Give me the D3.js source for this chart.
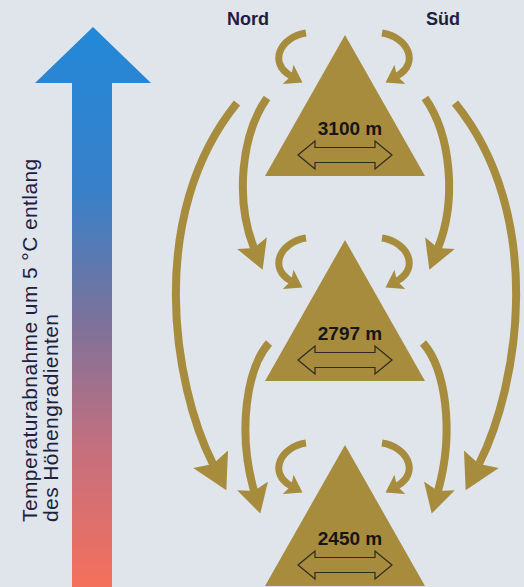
<!DOCTYPE html>
<html>
<head>
<meta charset="utf-8">
<script src="https://cdn.jsdelivr.net/npm/d3@7"></script>
<style>
  body { margin: 0; background: #dfe5ea; }
  svg { display: block; }
</style>
</head>
<body>
<div id="chart"></div>
<script>
// data
const peakLabels = ["3100 m", "2797 m", "2450 m"];
const sideLabels = ["Nord", "Süd"];
const axisLines = ["Temperaturabnahme um 5 °C entlang", "des Höhengradienten"];
// air flows between peaks: from index, to index, lane
const flowFrom = [0, 0, 1];
const flowTo = [1, 2, 2];
const flowLane = ["inner", "outer", "inner"];

const width = 524, height = 587;
const gold = "#a88c3d";
const ink = "#1d2140";

const svg = d3.select("#chart").append("svg")
    .attr("width", width)
    .attr("height", height);

svg.append("rect").attr("width", width).attr("height", height).attr("fill", "#dfe5ea");

const defs = svg.append("defs");

// temperature gradient for the big arrow
const grad = defs.append("linearGradient")
    .attr("id", "temp")
    .attr("gradientUnits", "userSpaceOnUse")
    .attr("x1", 0).attr("y1", 27).attr("x2", 0).attr("y2", height);
[[0, "#2288d8"], [0.3, "#3a80c8"], [0.52, "#7a729c"], [0.75, "#c46f7e"], [1, "#f4705c"]]
    .forEach(function(s) {
        grad.append("stop").attr("offset", s[0]).attr("stop-color", s[1]);
    });

// arrow heads (barbed)
function addHead(id, len, w, notch) {
    defs.append("marker")
        .attr("id", id)
        .attr("markerUnits", "userSpaceOnUse")
        .attr("orient", "auto")
        .attr("markerWidth", len + 2)
        .attr("markerHeight", w + 2)
        .attr("viewBox", [0, -w / 2, len, w].join(" "))
        .attr("refX", notch)
        .attr("refY", 0)
        .append("path")
        .attr("d", "M0," + (-w / 2) + "L" + len + ",0L0," + (w / 2) + "L" + notch + ",0Z")
        .attr("fill", gold);
}
addHead("headSmall", 15, 20, 3);
addHead("headInner", 27, 30, 5);
addHead("headOuter", 33, 37, 5);

// scales
const y = d3.scalePoint().domain(d3.range(peakLabels.length)).range([35, 445]);
const xSide = d3.scalePoint().domain(sideLabels).range([248, 443]);
const cx = 345;
const triH = 141, triHalf = 80;

// big temperature arrow
const arrow = d3.path();
arrow.moveTo(72, height);
arrow.lineTo(72, 83);
arrow.lineTo(35, 83);
arrow.lineTo(93, 27);
arrow.lineTo(151, 83);
arrow.lineTo(112, 83);
arrow.lineTo(112, height);
arrow.closePath();
svg.append("path").attr("d", arrow.toString()).attr("fill", "url(#temp)");

// rotated axis text
const label = svg.append("g").attr("transform", "translate(37,522) rotate(-90)");
label.selectAll("text")
    .data(axisLines)
    .enter()
    .append("text")
    .attr("x", 0)
    .attr("y", function(d, i) { return i * 21; })
    .attr("font-family", "Liberation Sans, Arial, sans-serif")
    .attr("font-size", 21)
    .attr("letter-spacing", 0.4)
    .attr("fill", ink)
    .text(function(d) { return d; });

// Nord / Süd
svg.selectAll(".side")
    .data(sideLabels)
    .enter()
    .append("text")
    .attr("class", "side")
    .attr("x", function(d) { return xSide(d); })
    .attr("y", 25)
    .attr("text-anchor", "middle")
    .attr("font-family", "Liberation Sans, Arial, sans-serif")
    .attr("font-weight", "bold")
    .attr("font-size", 18)
    .attr("fill", ink)
    .text(function(d) { return d; });

// big flows, left side geometry (offsets from cx and apex y), mirrored for the right
function flowShape(i) {
    const aF = y(flowFrom[i]), aT = y(flowTo[i]);
    if (flowLane[i] == "outer") {
        return [[-109, aF + 68], [-200, aF + 180], [-173, aT - 60], [-133, aT + 19]];
    }
    if (flowFrom[i] == 0) {
        return [[-79, aF + 63], [-105, aF + 100], [-111, aT - 40], [-92, aT + 8]];
    }
    return [[-77, aF + 103], [-99, aF + 128], [-109, aT - 15], [-92, aT + 46]];
}

function curve(pts, sign, axis) {
    const p = d3.path();
    const px = function(q) { return axis + sign * q[0]; };
    p.moveTo(px(pts[0]), pts[0][1]);
    p.bezierCurveTo(px(pts[1]), pts[1][1], px(pts[2]), pts[2][1], px(pts[3]), pts[3][1]);
    return p.toString();
}

const flows = [];
d3.range(flowFrom.length).forEach(function(i) {
    [-1, 1].forEach(function(s) {
        flows.push({ i: i, sign: s });
    });
});

svg.selectAll(".flow")
    .data(flows)
    .enter()
    .append("path")
    .attr("class", "flow")
    .attr("d", function(d) {
        const pts = flowShape(d.i).map(function(q) { return [-q[0], q[1]]; });
        return curve(pts, -d.sign, cx + 1);
    })
    .attr("fill", "none")
    .attr("stroke", gold)
    .attr("stroke-width", 8)
    .attr("marker-end", function(d) {
        return flowLane[d.i] == "outer" ? "url(#headOuter)" : "url(#headInner)";
    });

// peaks
const peak = svg.selectAll(".peak")
    .data(peakLabels)
    .enter()
    .append("g")
    .attr("class", "peak")
    .attr("transform", function(d, i) { return "translate(" + cx + "," + y(i) + ")"; });

// small eddies above each summit
peak.selectAll(".eddy")
    .data([-1, 1])
    .enter()
    .append("path")
    .attr("class", "eddy")
    .attr("d", function(s) {
        const pts = [[38, -2], [64, 2], [76, 28], [53, 41]];
        return curve(pts, s, -1);
    })
    .attr("fill", "none")
    .attr("stroke", gold)
    .attr("stroke-width", 7)
    .attr("marker-end", "url(#headSmall)");

peak.append("path")
    .attr("d", "M0,0L" + triHalf + "," + triH + "L" + (-triHalf) + "," + triH + "Z")
    .attr("fill", gold);

peak.append("text")
    .attr("x", 5)
    .attr("y", 100)
    .attr("text-anchor", "middle")
    .attr("font-family", "Liberation Sans, Arial, sans-serif")
    .attr("font-weight", "bold")
    .attr("font-size", 19)
    .attr("fill", "#161616")
    .text(function(d) { return d; });

// double arrow (east-west)
const L = 47, hl = 17, hh = 14, sh = 7.5;
const dbl = [[-L, 0], [-L + hl, -hh], [-L + hl, -sh], [L - hl, -sh], [L - hl, -hh], [L, 0],
             [L - hl, hh], [L - hl, sh], [-L + hl, sh], [-L + hl, hh]];
peak.append("path")
    .attr("d", function() { return d3.line()(dbl.map(function(q) { return [q[0], q[1] + 120]; })) + "Z"; })
    .attr("fill", gold)
    .attr("stroke", "#2b2a22")
    .attr("stroke-width", 1.2)
    .attr("stroke-linejoin", "miter");
</script>
</body>
</html>
